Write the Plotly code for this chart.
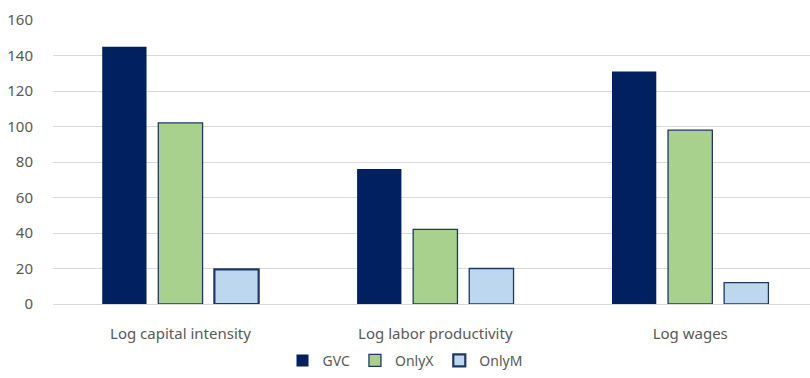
import plotly.graph_objects as go

categories = ["Log capital intensity", "Log labor productivity", "Log wages"]
gvc = [145, 76, 131]
only_x = [102, 42, 98]
only_m = [19.5, 20, 12]
y_ticks = [0, 20, 40, 60, 80, 100, 120, 140, 160]

navy = "#002060"
font_family = "Noto Sans, Lato, sans-serif"

fig = go.Figure()
fig.add_trace(go.Bar(name="GVC", x=categories, y=gvc,
                     marker=dict(color=navy, line=dict(width=0))))
fig.add_trace(go.Bar(name="OnlyX", x=categories, y=only_x,
                     marker=dict(color="#A9D18E", line=dict(color="#1F3864", width=1.3))))
fig.add_trace(go.Bar(name="OnlyM", x=categories, y=only_m,
                     marker=dict(color="#BDD7EE", line=dict(color="#1F3864", width=[2.2, 1.3, 1.3]))))

fig.update_layout(
    width=810, height=378,
    margin=dict(l=53, r=0, t=20, b=74, autoexpand=False),
    paper_bgcolor="white", plot_bgcolor="white",
    barmode="group", bargap=0.34, bargroupgap=0.21,
    font=dict(family=font_family, size=15, color="#595959"),
    showlegend=True,
    legend=dict(orientation="h", x=0.5, xanchor="center", xref="container",
                y=-0.2, yanchor="middle", yref="paper",
                font=dict(size=14, color="#595959"), itemwidth=30,
                traceorder="normal"),
    xaxis=dict(range=[-0.5, 2.47], showline=False, showgrid=False, automargin=False,
               ticks="outside", ticklen=16, tickcolor="rgba(0,0,0,0)",
               tickfont=dict(size=15, color="#595959")),
    yaxis=dict(range=[0, 160], tickvals=y_ticks, showgrid=True, gridcolor="#D9D9D9",
               gridwidth=1, zeroline=True, zerolinecolor="#D9D9D9", zerolinewidth=1,
               showline=False, automargin=False,
               ticks="outside", ticklen=16, tickcolor="rgba(0,0,0,0)",
               tickfont=dict(size=15, color="#595959")),
)

fig.write_html("out.html")
